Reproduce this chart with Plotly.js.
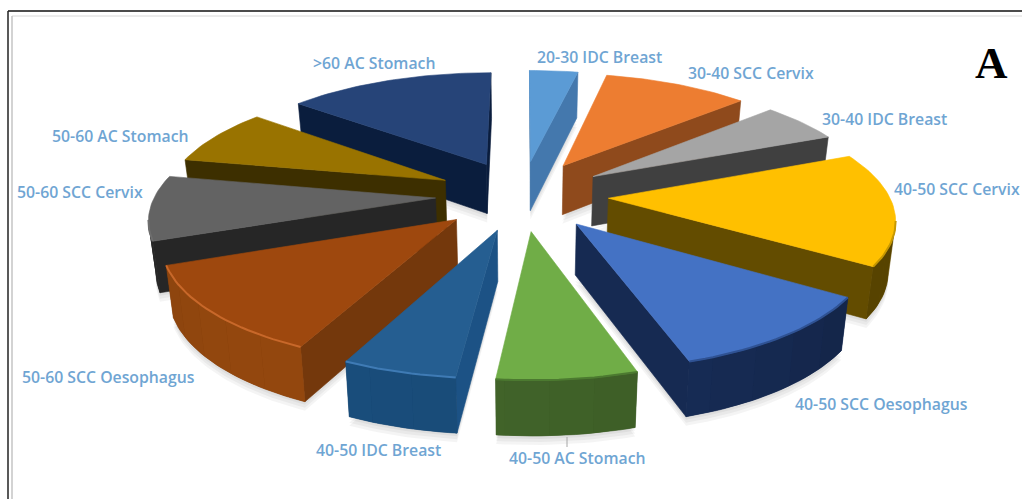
<!DOCTYPE html>
<html>
<head>
<meta charset="utf-8">
<script src="https://cdn.plot.ly/plotly-3.0.1.min.js"></script>
<style>html,body{margin:0;padding:0;background:#fff}#chart{width:1022px;height:499px}</style>
</head>
<body>
<div id="chart"></div>
<script>
// Cases by age group and tumour type, share of total in percent, clockwise from 12 o'clock
const ageGroups = ['20-30','30-40','30-40','40-50','40-50','40-50','40-50','50-60','50-60','50-60','>60'];
const tumourTypes = ['IDC Breast','SCC Cervix','IDC Breast','SCC Cervix','SCC Oesophagus','AC Stomach','IDC Breast','SCC Oesophagus','SCC Cervix','AC Stomach','AC Stomach'];
const shares = [3.3,9.9,5.5,15.5,10.9,6.6,5.4,12.1,8.9,7.8,14.1];

// Colours per slice: top face, cut faces, outer wall, bevel along the rim
const topColors  = ['#5b9bd5','#ed7d31','#a5a5a5','#ffc000','#4472c4','#70ad47','#255e91','#9e480e','#636363','#997300','#264478'];
const cutColors  = ['#4478ad','#8f4a1c','#404040','#634c00','#162a52','#3a5a26','#1c5285','#74380c','#262626','#3d2f00','#0a1d3d'];
const wallColors = ['#4478ad','#8f4a1c','#404040','#634c00','#162a52','#3c5c26','#174670','#86410d','#262626','#3d2f00','#0a1d3d'];
const rimColors  = ['#5b9bd5','#ed7d31','#a5a5a5','#c79800','#2f5293','#4c7a30','#3f7bb5','#c8682a','#6e6e6e','#997300','#264478'];

// Label anchors (left edge, vertical middle)
const labelLeft = [535,686,820,892,793,507,314,20,15,50,311];
const labelMid  = [57,73,119,189,404,458,450,377,192,136,63];

// Projection of the exploded pie: ground plane in pie radii, perspective toward the viewer
const view = {cx:522, cy:195, radiusPx:374, tiltPx:152, persp:0.2, depthPx:50, baseShrink:0.98};
const pieRadius = 0.75, explode = 0.231, stepDeg = 8;

function project(X, U, lower) {
  const s = 1 / (1 - view.persp * U);
  let sx = view.cx + view.radiusPx * X * s;
  let sy = view.cy + view.tiltPx * U * s;
  if (lower) { sx = view.cx + (sx - view.cx) * view.baseShrink; sy += view.depthPx * Math.sqrt(s); }
  return [sx, sy];
}
const rad = d => d * Math.PI / 180;
function shade(hex, f) {
  const c = [1,3,5].map(i => Math.min(255, Math.round(parseInt(hex.substr(i,2),16) * f)));
  return `rgb(${c[0]},${c[1]},${c[2]})`;
}
function poly(points, fill, name, edge) {
  return {type:'scatter', mode:'lines', x:points.map(p=>p[0]), y:points.map(p=>p[1]),
          fill:'toself', fillcolor:fill, line:{color:fill, width:edge}, hoverinfo:'skip', showlegend:false, name:name};
}

const total = shares.reduce((a,b)=>a+b,0);
let cursor = 0;
const slices = shares.map((v,i) => {
  const a0 = cursor, a1 = cursor + v / total * 360;
  cursor = a1;
  const mid = (a0 + a1) / 2;
  const tx = explode * Math.sin(rad(mid)), tu = -explode * Math.cos(rad(mid));
  const n = Math.max(2, Math.ceil((a1 - a0) / 1.5));
  const angles = Array.from({length:n+1}, (_,k) => a0 + (a1 - a0) * k / n);
  const ground = angles.map(a => [tx + pieRadius * Math.sin(rad(a)), tu - pieRadius * Math.cos(rad(a))]);
  return {i, name:ageGroups[i]+' '+tumourTypes[i], a0, a1, tx, tu, angles, ground};
});

const shadows = [], bodies = [];
slices.slice().sort((p,q) => p.tu - q.tu).forEach(sl => {
  const i = sl.i;
  const top = sl.ground.map(g => project(g[0], g[1], false));
  const low = sl.ground.map(g => project(g[0], g[1], true));
  const tipTop = project(sl.tx, sl.tu, false), tipLow = project(sl.tx, sl.tu, true);

  // Soft contact shadow below the base
  [3,6,9].forEach(off => shadows.push(poly([tipLow,...low,tipLow].map(p=>[p[0],p[1]+off]), 'rgba(0,0,0,0.045)', sl.name, 0)));

  // A side face shows when its top edge runs leftward on screen
  if (top[0][0] < tipTop[0]) bodies.push(poly([tipTop,top[0],low[0],tipLow,tipTop], cutColors[i], sl.name, 0.6));
  const last = top.length - 1;
  if (tipTop[0] < top[last][0]) bodies.push(poly([top[last],tipTop,tipLow,low[last],top[last]], cutColors[i], sl.name, 0.6));

  // Outer wall: only the arc stretch facing the viewer, base colour with soft bands over it
  const visible = [];
  for (let k = 0; k < last; k++) if (top[k+1][0] < top[k][0]) visible.push(k);
  if (visible.length) {
    const first = visible[0], end = visible[visible.length-1] + 1;
    const upper = top.slice(first, end+1), lower = low.slice(first, end+1).reverse();
    bodies.push(poly([...upper, ...lower, upper[0]], wallColors[i], sl.name, 0.6));
    const bandSpan = Math.max(1, Math.round(stepDeg / (sl.angles[1] - sl.angles[0])));
    for (let k = first; k < end; k += bandSpan) {
      const e = Math.min(end, k + bandSpan);
      const m = rad((sl.angles[k] + sl.angles[e]) / 2);
      const lit = Math.max(0, -0.5 * Math.sin(m) - 0.85 * Math.cos(m));
      const pts = [...top.slice(k, e+1), ...low.slice(k, e+1).reverse(), top[k]];
      bodies.push(poly(pts, shade(wallColors[i], 0.88 + 0.22 * lit), sl.name, 0));
    }
  }

  bodies.push(poly([tipTop,...top,tipTop], topColors[i], sl.name, 0.6));
  if (visible.length) {
    const rim = top.slice(visible[0], visible[visible.length-1] + 2);
    bodies.push({type:'scatter', mode:'lines', x:rim.map(p=>p[0]), y:rim.map(p=>p[1]),
                 line:{color:rimColors[i], width:2}, hoverinfo:'skip', showlegend:false, name:sl.name});
  }
});

const annotations = slices.map(sl => ({
  x:labelLeft[sl.i], y:labelMid[sl.i], xref:'x', yref:'y', xanchor:'left', yanchor:'middle', showarrow:false,
  text:sl.name, font:{family:'"Open Sans", sans-serif', size:15.8, color:'#6fa5d3', weight:600}
}));
annotations.push({x:991, y:63, xref:'x', yref:'y', xanchor:'center', yanchor:'middle', showarrow:false,
  text:'<b>A</b>', font:{family:'"Liberation Serif", serif', size:45, color:'#000'}});

const frameShapes = [
  {type:'line', x0:8, x1:1022, y0:11, y1:11, line:{color:'#111', width:1.5}},
  {type:'line', x0:8, x1:8, y0:11, y1:499, line:{color:'#222', width:1.5}},
  {type:'line', x0:12, x1:1022, y0:16, y1:16, line:{color:'#d8d8d8', width:1}},
  {type:'line', x0:12, x1:12, y0:16, y1:499, line:{color:'#c4c4c4', width:1.5}},
  {type:'line', x0:567, x1:567, y0:437, y1:447, line:{color:'#a6a6a6', width:1}}
];

Plotly.newPlot('chart', [...shadows, ...bodies], {
  width:1022, height:499, margin:{l:0,r:0,t:0,b:0}, paper_bgcolor:'#fff', plot_bgcolor:'#fff', showlegend:false,
  xaxis:{range:[0,1022], visible:false, fixedrange:true},
  yaxis:{range:[499,0], visible:false, fixedrange:true},
  shapes:frameShapes, annotations:annotations
}, {displayModeBar:false, staticPlot:true});
</script>
</body>
</html>
